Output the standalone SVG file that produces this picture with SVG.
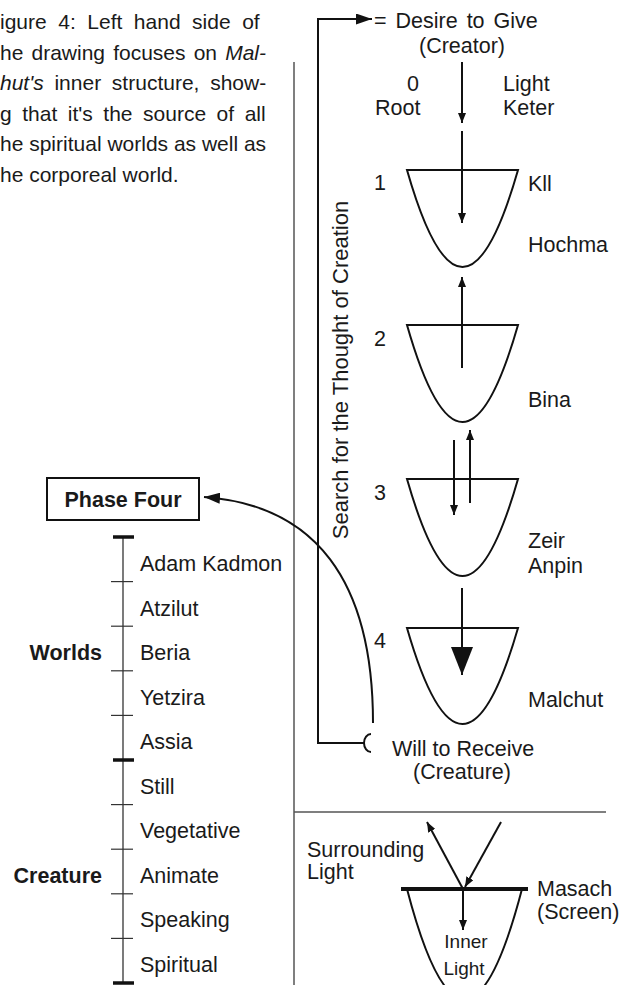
<svg xmlns="http://www.w3.org/2000/svg" width="622" height="985" viewBox="0 0 622 985">
<defs>
<style>
.t{font-family:"Liberation Sans",Arial,sans-serif;font-size:21.5px;fill:#1a1a1a}
.cap{font-size:21px}
.b{font-weight:bold}
.m{text-anchor:middle}
.e{text-anchor:end}
.ln{stroke:#111;stroke-width:2;fill:none}
.dv{stroke:#555;stroke-width:1.5;fill:none}
.sc{stroke:#333;stroke-width:1.3;fill:none}
.tk{stroke:#333;stroke-width:1.2}
.tkb{stroke:#111;stroke-width:3.5}
.ves{stroke:#111;stroke-width:2;fill:none}
</style>
<marker id="ah" markerUnits="userSpaceOnUse" markerWidth="10" markerHeight="8" refX="10" refY="4" orient="auto"><path d="M0,0 L10,4 L0,8 Z" fill="#111"/></marker>
<marker id="ahM" markerUnits="userSpaceOnUse" markerWidth="16" markerHeight="11" refX="16" refY="5.5" orient="auto"><path d="M0,0 L16,5.5 L0,11 Z" fill="#111"/></marker>
<marker id="ahB" markerUnits="userSpaceOnUse" markerWidth="28" markerHeight="22" refX="28" refY="11" orient="auto"><path d="M0,0 L28,11 L0,22 Z" fill="#111"/></marker>
</defs>
<rect width="622" height="985" fill="#fff"/>

<g id="caption" class="t cap">
<text x="0" y="29" word-spacing="5.7">igure 4: Left hand side of</text>
<text x="0" y="60" word-spacing="2.3">he drawing focuses on <tspan font-style="italic">Mal-</tspan></text>
<text x="0" y="90" word-spacing="4.9"><tspan font-style="italic">hut's</tspan> inner structure, show-</text>
<text x="0" y="121" word-spacing="4.7">g that it's the source of all</text>
<text x="0" y="151">he spiritual worlds as well as</text>
<text x="0" y="182">he corporeal world.</text>
</g>

<g id="dividers">
<line class="dv" x1="294" y1="62" x2="294" y2="985"/>
<line class="dv" x1="294" y1="812" x2="606" y2="812"/>
</g>

<g id="phase-four">
<rect x="47" y="478" width="152" height="42" fill="#fff" stroke="#111" stroke-width="2"/>
<text class="t b m" x="123" y="507">Phase Four</text>
</g>

<g id="scale">
<line class="sc" x1="123" y1="537" x2="123" y2="983"/>
<line class="tkb" x1="113" y1="537" x2="134" y2="537"/>
<line class="tk" x1="111" y1="581.6" x2="133" y2="581.6"/>
<line class="tk" x1="111" y1="626.2" x2="133" y2="626.2"/>
<line class="tk" x1="111" y1="670.8" x2="133" y2="670.8"/>
<line class="tk" x1="111" y1="715.4" x2="133" y2="715.4"/>
<line class="tkb" x1="113" y1="760" x2="134" y2="760"/>
<line class="tk" x1="111" y1="804.6" x2="133" y2="804.6"/>
<line class="tk" x1="111" y1="849.2" x2="133" y2="849.2"/>
<line class="tk" x1="111" y1="893.8" x2="133" y2="893.8"/>
<line class="tk" x1="111" y1="938.4" x2="133" y2="938.4"/>
<line class="tkb" x1="113" y1="983" x2="134" y2="983"/>
</g>
<g id="worlds" class="t">
<text class="b e" x="102" y="660">Worlds</text>
<text x="140" y="571">Adam Kadmon</text>
<text x="140" y="616">Atzilut</text>
<text x="140" y="660">Beria</text>
<text x="140" y="705">Yetzira</text>
<text x="140" y="749">Assia</text>
</g>
<g id="creature" class="t">
<text class="b e" x="102" y="883">Creature</text>
<text x="140" y="794">Still</text>
<text x="140" y="838">Vegetative</text>
<text x="140" y="883">Animate</text>
<text x="140" y="927">Speaking</text>
<text x="140" y="972">Spiritual</text>
</g>

<g id="creator" class="t">
<text x="374" y="28" word-spacing="3">= Desire to Give</text>
<text class="m" x="462" y="53">(Creator)</text>
</g>
<g id="phase0" class="t">
<text class="m" x="413" y="91">0</text>
<text x="375" y="115">Root</text>
<text x="503" y="91">Light</text>
<text x="503" y="115">Keter</text>
</g>
<g id="vessel1">
<path class="ves" d="M407,170 H518 Q462.5,364 407,170 Z"/>
<text class="t m" x="380" y="190">1</text>
<text class="t" x="528" y="191">Kll</text>
<text class="t" x="528" y="252">Hochma</text>
</g>
<g id="vessel2">
<path class="ves" d="M407,325 H518 Q462.5,519 407,325 Z"/>
<text class="t m" x="380" y="346">2</text>
<text class="t" x="528" y="407">Bina</text>
</g>
<g id="vessel3">
<path class="ves" d="M407,479 H518 Q462.5,673 407,479 Z"/>
<text class="t m" x="380" y="500">3</text>
<text class="t" x="528" y="548">Zeir</text>
<text class="t" x="528" y="573">Anpin</text>
</g>
<g id="vessel4">
<path class="ves" d="M407,628 H518 Q462.5,820 407,628 Z"/>
<text class="t m" x="380" y="648">4</text>
<text class="t" x="528" y="707">Malchut</text>
</g>
<g id="will" class="t">
<text x="392" y="756">Will to Receive</text>
<text class="m" x="462" y="779">(Creature)</text>
</g>
<g id="search">
<text class="t m" transform="translate(348,370) rotate(-90)" style="font-size:22px">Search for the Thought of Creation</text>
</g>

<g id="masach">
<path class="ves" d="M407,889 Q464.5,1109 522,889"/>
<line x1="401" y1="889" x2="528" y2="889" stroke="#111" stroke-width="4"/>
<text class="t" x="307" y="857">Surrounding</text>
<text class="t" x="307" y="879">Light</text>
<text class="t" x="537" y="896">Masach</text>
<text class="t" x="537" y="919">(Screen)</text>
<text class="t m" x="466" y="948" style="font-size:19px">Inner</text>
<text class="t m" x="464" y="975" style="font-size:19px">Light</text>
</g>

<g id="connectors">
<path class="ln" d="M364,743 H318 V19 H372" stroke-width="2.2" marker-end="url(#ahM)"/>
<path class="ln" d="M371,734 A7,9 0 0 0 371,752" stroke-width="2.2"/>
<path class="ln" d="M373,723 C373,580 315,505 204,497" marker-end="url(#ahM)"/>
<line class="ln" x1="462" y1="62" x2="462" y2="123" stroke-width="1.5" marker-end="url(#ah)"/>
<line class="ln" x1="462" y1="131" x2="462" y2="223" stroke-width="1.5" marker-end="url(#ah)"/>
<line class="ln" x1="462" y1="368" x2="462" y2="277" stroke-width="1.5" marker-end="url(#ah)"/>
<line class="ln" x1="454" y1="440" x2="454" y2="515" stroke-width="1.5" marker-end="url(#ah)"/>
<line class="ln" x1="470" y1="503" x2="470" y2="430" stroke-width="1.5" marker-end="url(#ah)"/>
<line class="ln" x1="462" y1="588" x2="462" y2="675" stroke-width="3.5" marker-end="url(#ahB)"/>
<line class="ln" x1="501" y1="822" x2="465" y2="887" stroke-width="1.5" marker-end="url(#ah)"/>
<line class="ln" x1="463" y1="889" x2="427" y2="822" stroke-width="1.5" marker-end="url(#ah)"/>
<line class="ln" x1="463" y1="889" x2="463" y2="930" stroke-width="1.5" marker-end="url(#ah)"/>
</g>
</svg>
